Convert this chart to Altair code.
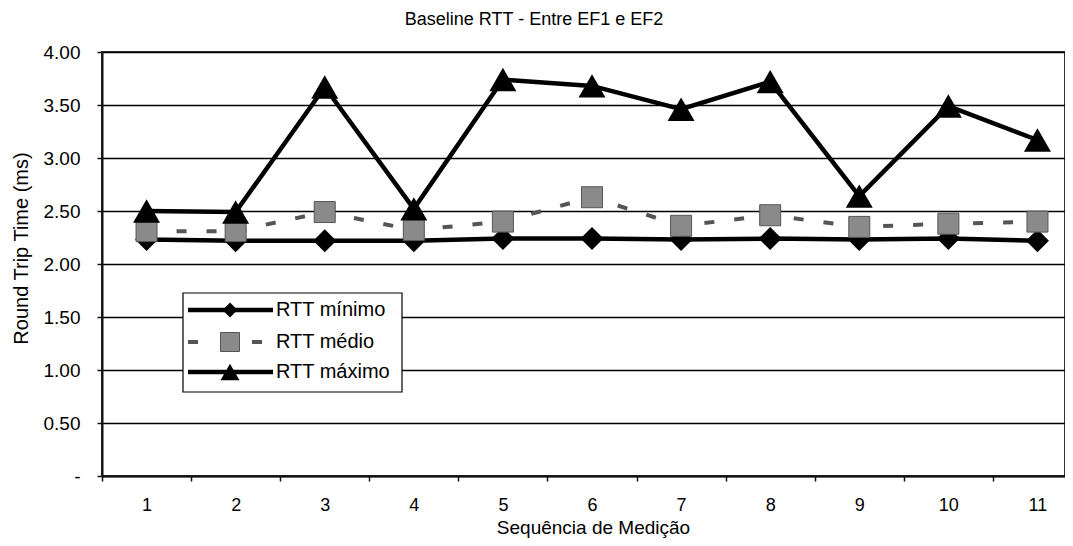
import altair as alt
import pandas as pd

# ---- data ----
seq = list(range(1, 12))
rtt_min = [2.23, 2.22, 2.22, 2.22, 2.24, 2.24, 2.23, 2.24, 2.23, 2.24, 2.22]
rtt_med = [2.31, 2.31, 2.49, 2.32, 2.40, 2.63, 2.36, 2.46, 2.35, 2.38, 2.40]
rtt_max = [2.50, 2.49, 3.67, 2.52, 3.74, 3.68, 3.46, 3.72, 2.64, 3.49, 3.17]
series_names = ["RTT mínimo", "RTT médio", "RTT máximo"]
y_ticks = [0, 0.5, 1.0, 1.5, 2.0, 2.5, 3.0, 3.5, 4.0]

title_text = "Baseline RTT - Entre EF1 e EF2"
x_title = "Sequência de Medição"
y_title = "Round Trip Time (ms)"

df = pd.DataFrame({"seq": seq, "min": rtt_min, "med": rtt_med, "max": rtt_max})

FONT = "Liberation Sans"
NB = "\u00a0"

x_scale = alt.Scale(type="band", paddingInner=0, paddingOuter=0, range=[0, 980])
x_axis = alt.Axis(
    title=x_title, labelAngle=0, tickBand="extent", tickSize=5, tickWidth=1.5,
    tickColor="#111", labelPadding=15, labelFontSize=18, labelColor="#000",
    titleFontSize=19, titleFontWeight="normal", titleColor="#000",
    titleX=491, titleY=57, titleAlign="center", titleBaseline="alphabetic",
    domainColor="#111", domainWidth=2, grid=False,
)
y_scale = alt.Scale(domain=[0, 4], nice=False, zero=True)
y_axis = alt.Axis(
    title=y_title, values=y_ticks,
    labelExpr="datum.value == 0 ? '-" + NB * 4 + "' : format(datum.value, '.2f')",
    tickSize=5, tickWidth=1.5, tickColor="#111", labelPadding=17,
    labelFontSize=19, labelColor="#000",
    titleFontSize=20, titleFontWeight="normal", titleColor="#000",
    titleX=-75, titleY=196, titleAlign="center", titleBaseline="alphabetic",
    domainColor="#111", domainWidth=2,
    grid=True, gridColor="#000", gridWidth=1.3,
)

X = alt.X("seq:O", scale=x_scale, axis=x_axis)


def Y(field):
    return alt.Y(f"{field}:Q", scale=y_scale, axis=y_axis)


base = alt.Chart(df)

line_min = base.mark_line(color="black", strokeWidth=4.5).encode(x=X, y=Y("min"))
pts_min = base.mark_point(shape="diamond", filled=True, size=529, color="black",
                          opacity=1).encode(x=X, y=Y("min"))
line_med = base.mark_line(color="#555555", strokeWidth=4, strokeDash=[10, 20]).encode(x=X, y=Y("med"))
pts_med = base.mark_point(shape="square", filled=True, size=441, fill="#8a8a8a",
                          stroke="#555555", strokeWidth=1, opacity=1).encode(x=X, y=Y("med"))
line_max = base.mark_line(color="black", strokeWidth=4.5).encode(x=X, y=Y("max"))
pts_max = base.mark_point(shape="triangle-up", filled=True, size=729, color="black",
                          opacity=1).encode(x=X, y=Y("max"))

# ---- chart title as a text mark above the plot ----
title_mark = alt.Chart(pd.DataFrame({"t": [title_text]})).mark_text(
    align="center", baseline="alphabetic", fontSize=18, font=FONT, color="black"
).encode(x=alt.value(432), y=alt.value(-27.5), text="t:N")

# ---- manual legend (inside the plot, lower left) ----
leg_box = alt.Chart(pd.DataFrame({"k": [0]})).mark_rect(
    fill="white", stroke="black", strokeWidth=1.2
).encode(x=alt.value(81), x2=alt.value(300), y=alt.value(241), y2=alt.value(340))

rows_y = [258, 290, 320]
legend_layers = [leg_box]
styles = [
    dict(line=dict(color="black", strokeWidth=4.5), pt=dict(shape="diamond", size=225, color="black")),
    dict(line=dict(color="#555555", strokeWidth=4, strokeDash=[10, 22]),
         pt=dict(shape="square", size=361, fill="#8a8a8a", stroke="#555555", strokeWidth=1)),
    dict(line=dict(color="black", strokeWidth=4.5), pt=dict(shape="triangle-up", size=361, color="black")),
]
for name, yy, st in zip(series_names, rows_y, styles):
    d = pd.DataFrame({"label": [name]})
    legend_layers.append(
        alt.Chart(d).mark_rule(**st["line"]).encode(
            x=alt.value(86), x2=alt.value(171), y=alt.value(yy))
    )
    legend_layers.append(
        alt.Chart(d).mark_point(filled=True, opacity=1, **st["pt"]).encode(
            x=alt.value(128), y=alt.value(yy))
    )
    legend_layers.append(
        alt.Chart(d).mark_text(align="left", baseline="middle", fontSize=20,
                               font=FONT, color="black").encode(
            x=alt.value(174), y=alt.value(yy), text="label:N")
    )

chart = alt.layer(
    line_min, pts_min, line_med, pts_med, line_max, pts_max, title_mark, *legend_layers
).properties(
    width=963,
    height=424,
    autosize=alt.AutoSizeParams(type="none"),
    padding={"left": 94, "top": 44, "right": 0, "bottom": 64},
).configure(
    font=FONT, background="white"
).configure_view(
    stroke="#333333", strokeWidth=2
)

chart.save("out.html", embed_options={"renderer": "svg", "actions": False})
